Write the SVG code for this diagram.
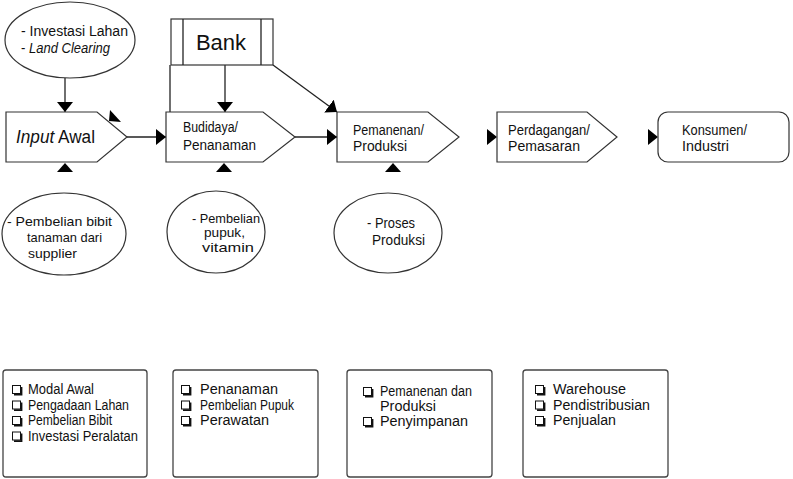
<svg xmlns="http://www.w3.org/2000/svg" xmlns:xlink="http://www.w3.org/1999/xlink" width="793" height="479" viewBox="0 0 793 479">
  <style>
    .shape { fill: #fff; stroke: #333; stroke-width: 1.2; }
    .box { fill: #fff; stroke: #444; stroke-width: 1.3; }
    .t { font-family: "Liberation Sans", Arial, sans-serif; fill: #111; font-size: 14px; }
    .t.sm { font-size: 13px; }
    .t.lg { font-size: 18px; }
    .t.xl { font-size: 22px; }
    .line { stroke: #222; stroke-width: 1.3; fill: none; }
    .head { fill: #000; }
  </style>
  <defs>
    <marker id="arrow" markerUnits="userSpaceOnUse" markerWidth="10" markerHeight="16" refX="10" refY="8" orient="auto">
      <path d="M0,0 L10,8 L0,16 Z" fill="#000"/>
    </marker>
    <path id="tri-up" d="M-8,9 L0,0 L8,9 Z" fill="#000"/>
    <path id="tri-right" d="M-10,-8 L0,0 L-10,8 Z" fill="#000"/>
    <g id="cb">
      <rect x="0.5" y="0.5" width="8" height="8" fill="#fff" stroke="#111" stroke-width="1"/>
      <path d="M2,9.6 H9.6 V2" stroke="#111" stroke-width="1.6" fill="none"/>
    </g>
  </defs>

  <rect width="793" height="479" fill="#fff"/>

  <!-- connectors -->
  <g id="connectors">
    <line class="line" x1="65" y1="78" x2="65" y2="112" marker-end="url(#arrow)"/>
    <line class="line" x1="127" y1="137" x2="166" y2="137" marker-end="url(#arrow)"/>
    <line class="line" x1="295" y1="137" x2="337" y2="137" marker-end="url(#arrow)"/>
    <line class="line" x1="225" y1="65" x2="225" y2="112" marker-end="url(#arrow)"/>
    <line class="line" x1="273" y1="65" x2="337" y2="112" marker-end="url(#arrow)"/>
    <line class="line" x1="170" y1="65" x2="170" y2="117"/>
    <!-- free-standing arrowheads -->
    <use xlink:href="#tri-up" x="65" y="163"/>
    <use xlink:href="#tri-up" x="224" y="163"/>
    <use xlink:href="#tri-up" x="393" y="163"/>
    <polygon class="head" points="110,110 109,121 121,122"/>
    <use xlink:href="#tri-right" x="497" y="137"/>
    <use xlink:href="#tri-right" x="658" y="137"/>
  </g>

  <!-- top ellipse -->
  <g id="investasi">
    <ellipse class="shape" cx="70" cy="40" rx="65" ry="38"/>
    <text class="t" x="21" y="36" textLength="107" lengthAdjust="spacingAndGlyphs">- Investasi Lahan</text>
    <text class="t" x="21" y="53" textLength="89" lengthAdjust="spacingAndGlyphs">- <tspan font-style="italic">Land Clearing</tspan></text>
  </g>

  <g id="bank">
    <rect class="shape" x="171" y="19" width="102" height="46"/>
    <line class="line" x1="183" y1="19" x2="183" y2="65" stroke-width="1.2"/>
    <line class="line" x1="261" y1="19" x2="261" y2="65" stroke-width="1.2"/>
    <text class="t xl" x="221" y="50" text-anchor="middle">Bank</text>
  </g>

  <g id="input-awal">
    <path class="shape" d="M6,112 H97 L127,137 L97,162 H6 Z"/>
    <text class="t lg" x="16" y="143" textLength="79" lengthAdjust="spacingAndGlyphs"><tspan font-style="italic">Input</tspan> Awal</text>
  </g>

  <g id="budidaya">
    <path class="shape" d="M166,112 H263 L295,137 L263,162 H166 Z"/>
    <text class="t" x="183" y="132" textLength="55" lengthAdjust="spacingAndGlyphs">Budidaya/</text>
    <text class="t" x="183" y="150" textLength="73" lengthAdjust="spacingAndGlyphs">Penanaman</text>
  </g>

  <g id="pemanenan">
    <path class="shape" d="M337,112 H428 L459,137 L428,162 H337 Z"/>
    <text class="t" x="353" y="135" textLength="71" lengthAdjust="spacingAndGlyphs">Pemanenan/</text>
    <text class="t" x="353" y="151" textLength="54" lengthAdjust="spacingAndGlyphs">Produksi</text>
  </g>

  <g id="perdagangan">
    <path class="shape" d="M497,112 H587 L617,137 L587,162 H497 Z"/>
    <text class="t" x="508" y="135" textLength="82" lengthAdjust="spacingAndGlyphs">Perdagangan/</text>
    <text class="t" x="508" y="151" textLength="72" lengthAdjust="spacingAndGlyphs">Pemasaran</text>
  </g>

  <g id="konsumen">
    <rect class="shape" x="658" y="112" width="131" height="50" rx="10"/>
    <text class="t" x="682" y="135" textLength="65" lengthAdjust="spacingAndGlyphs">Konsumen/</text>
    <text class="t" x="682" y="151" textLength="47" lengthAdjust="spacingAndGlyphs">Industri</text>
  </g>

  <!-- lower ellipses -->
  <g id="pembelian-bibit">
    <ellipse class="shape" cx="64" cy="234" rx="62" ry="41"/>
    <text class="t sm" x="7" y="226" textLength="105" lengthAdjust="spacingAndGlyphs">- Pembelian bibit</text>
    <text class="t sm" x="27" y="242" textLength="75" lengthAdjust="spacingAndGlyphs">tanaman dari</text>
    <text class="t sm" x="28" y="257.5" textLength="49" lengthAdjust="spacingAndGlyphs">supplier</text>
  </g>

  <g id="pembelian-pupuk">
    <ellipse class="shape" cx="216" cy="232" rx="49" ry="41"/>
    <text class="t sm" x="192" y="222.5" textLength="68" lengthAdjust="spacingAndGlyphs">- Pembelian</text>
    <text class="t sm" x="204" y="237" textLength="41" lengthAdjust="spacingAndGlyphs">pupuk,</text>
    <text class="t sm" x="202" y="251.5" textLength="52" lengthAdjust="spacingAndGlyphs">vitamin</text>
  </g>

  <g id="proses-produksi">
    <ellipse class="shape" cx="388" cy="233" rx="54" ry="40"/>
    <text class="t" x="367" y="228" textLength="48" lengthAdjust="spacingAndGlyphs">- Proses</text>
    <text class="t" x="372" y="245" textLength="53" lengthAdjust="spacingAndGlyphs">Produksi</text>
  </g>

  <!-- activity lists -->
  <g id="list-input">
    <rect class="box" x="3" y="370" width="144" height="107" rx="3"/>
    <use xlink:href="#cb" x="12" y="385"/>
    <use xlink:href="#cb" x="12" y="400.5"/>
    <use xlink:href="#cb" x="12" y="416"/>
    <use xlink:href="#cb" x="12" y="431.5"/>
    <text class="t" x="28" y="394" textLength="66" lengthAdjust="spacingAndGlyphs">Modal Awal</text>
    <text class="t" x="28" y="409.5" textLength="101" lengthAdjust="spacingAndGlyphs">Pengadaan  Lahan</text>
    <text class="t" x="28" y="425" textLength="84" lengthAdjust="spacingAndGlyphs">Pembelian Bibit</text>
    <text class="t" x="28" y="440.5" textLength="110" lengthAdjust="spacingAndGlyphs">Investasi Peralatan</text>
  </g>

  <g id="list-budidaya">
    <rect class="box" x="173" y="370" width="145" height="107" rx="3"/>
    <use xlink:href="#cb" x="181" y="385"/>
    <use xlink:href="#cb" x="181" y="400.5"/>
    <use xlink:href="#cb" x="181" y="416"/>
    <text class="t" x="200" y="394" textLength="78" lengthAdjust="spacingAndGlyphs">Penanaman</text>
    <text class="t" x="200" y="409.5" textLength="94" lengthAdjust="spacingAndGlyphs">Pembelian Pupuk</text>
    <text class="t" x="200" y="425" textLength="69" lengthAdjust="spacingAndGlyphs">Perawatan</text>
  </g>

  <g id="list-pemanenan">
    <rect class="box" x="347" y="370" width="145" height="107" rx="3"/>
    <use xlink:href="#cb" x="363" y="387"/>
    <use xlink:href="#cb" x="363" y="417"/>
    <text class="t" x="380" y="396" textLength="92" lengthAdjust="spacingAndGlyphs">Pemanenan dan</text>
    <text class="t" x="380" y="411" textLength="56" lengthAdjust="spacingAndGlyphs">Produksi</text>
    <text class="t" x="380" y="426" textLength="88" lengthAdjust="spacingAndGlyphs">Penyimpanan</text>
  </g>

  <g id="list-perdagangan">
    <rect class="box" x="523" y="370" width="145" height="107" rx="3"/>
    <use xlink:href="#cb" x="535" y="385"/>
    <use xlink:href="#cb" x="535" y="400.5"/>
    <use xlink:href="#cb" x="535" y="416"/>
    <text class="t" x="553" y="394" textLength="73" lengthAdjust="spacingAndGlyphs">Warehouse</text>
    <text class="t" x="553" y="409.5" textLength="97" lengthAdjust="spacingAndGlyphs">Pendistribusian</text>
    <text class="t" x="553" y="425" textLength="63" lengthAdjust="spacingAndGlyphs">Penjualan</text>
  </g>
</svg>
